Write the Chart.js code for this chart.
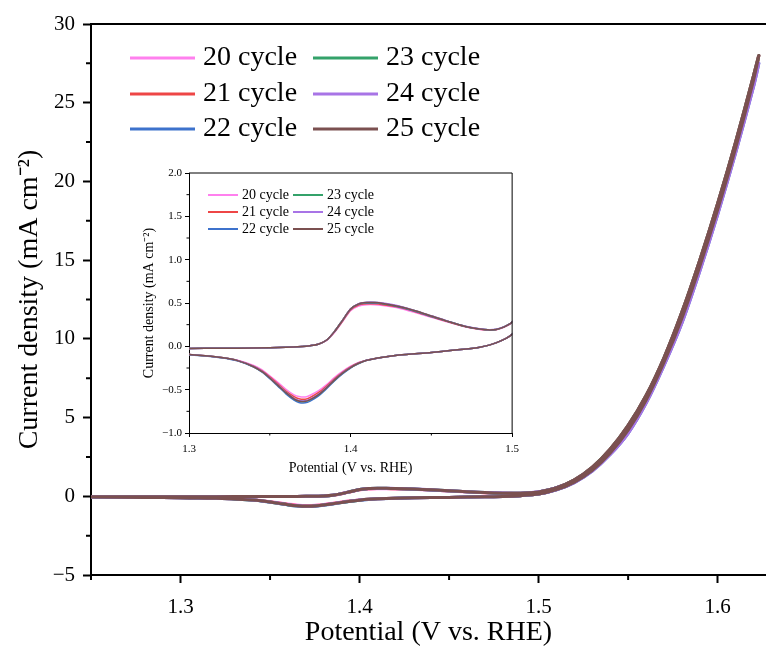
<!DOCTYPE html>
<html>
<head>
<meta charset="utf-8">
<script src="https://cdn.jsdelivr.net/npm/chart.js@4.4.1/dist/chart.umd.min.js"></script>
<style>
html, body { margin: 0; padding: 0; background: #fff; }
#wrap { position: relative; width: 766px; height: 663px; }
#mainChart { position: absolute; left: 0; top: 0; }
#insetChart { position: absolute; left: 130px; top: 160px; }
</style>
</head>
<body>
<div id="wrap">
  <canvas id="mainChart" width="766" height="663"></canvas>
  <canvas id="insetChart" width="395" height="320"></canvas>
</div>
<script>
// potential along one CV loop: forward scan up to 1.623 V, then back down
const potential = [
  1.25, 1.27, 1.29, 1.30, 1.32, 1.34, 1.36, 1.37, 1.375, 1.38,
  1.385, 1.39, 1.395, 1.40, 1.405, 1.41, 1.415, 1.42, 1.43, 1.44,
  1.45, 1.46, 1.47, 1.48, 1.485, 1.49, 1.495, 1.50, 1.51, 1.52,
  1.53, 1.54, 1.55, 1.56, 1.57, 1.58, 1.59, 1.60, 1.61, 1.62, 1.623,
  1.62, 1.61, 1.60, 1.59, 1.58, 1.57, 1.56, 1.55, 1.54, 1.53,
  1.52, 1.51, 1.50, 1.49, 1.48, 1.47, 1.45, 1.43, 1.42, 1.41,
  1.405, 1.40, 1.395, 1.39, 1.385, 1.38, 1.375, 1.372, 1.368, 1.365,
  1.36, 1.355, 1.35, 1.345, 1.34, 1.33, 1.32, 1.31, 1.30, 1.28, 1.25
];

// current density (mA cm-2) for each cycle, same order as potential
const cycle20 = [
  -0.03, -0.03, -0.028, -0.025, -0.022, -0.02, -0.012, -0.002, 0.008, 0.025,
  0.065, 0.16, 0.285, 0.41, 0.465, 0.48, 0.48, 0.47, 0.44, 0.39,
  0.335, 0.28, 0.23, 0.195, 0.185, 0.19, 0.22, 0.275, 0.55, 1.05,
  1.85, 3.0, 4.5, 6.4, 8.8, 11.7, 15.0, 18.6, 22.5, 26.7, 28.0,
  26.4, 22.1, 18.2, 14.6, 11.3, 8.5, 6.1, 4.2, 2.75, 1.65,
  0.9, 0.42, 0.14, 0.04, -0.01, -0.035, -0.07, -0.1, -0.125, -0.16,
  -0.185, -0.23, -0.29, -0.36, -0.445, -0.515, -0.565, -0.585, -0.58, -0.56,
  -0.495, -0.415, -0.34, -0.27, -0.22, -0.16, -0.128, -0.108, -0.093, -0.07, -0.05
];
const cycle21 = [
  -0.03, -0.03, -0.028, -0.025, -0.022, -0.02, -0.012, -0.002, 0.008, 0.025,
  0.068, 0.165, 0.29, 0.42, 0.477, 0.49, 0.49, 0.48, 0.45, 0.40,
  0.34, 0.285, 0.232, 0.197, 0.187, 0.192, 0.222, 0.277, 0.55, 1.05,
  1.85, 3.0, 4.5, 6.4, 8.8, 11.7, 15.0, 18.6, 22.5, 26.7, 28.0,
  26.4, 22.1, 18.2, 14.6, 11.3, 8.5, 6.1, 4.2, 2.75, 1.65,
  0.9, 0.42, 0.14, 0.04, -0.01, -0.035, -0.07, -0.1, -0.125, -0.16,
  -0.19, -0.238, -0.3, -0.375, -0.46, -0.535, -0.59, -0.61, -0.605, -0.58,
  -0.515, -0.432, -0.352, -0.28, -0.228, -0.163, -0.129, -0.109, -0.094, -0.07, -0.05
];
const cycle22 = [
  -0.03, -0.03, -0.028, -0.025, -0.022, -0.02, -0.012, -0.002, 0.008, 0.025,
  0.07, 0.17, 0.3, 0.43, 0.487, 0.5, 0.5, 0.49, 0.455, 0.405,
  0.345, 0.29, 0.235, 0.2, 0.19, 0.195, 0.225, 0.28, 0.54, 1.02,
  1.8, 2.9, 4.4, 6.2, 8.6, 11.4, 14.7, 18.3, 22.1, 26.2, 27.5,
  26.0, 21.8, 17.9, 14.3, 11.0, 8.3, 5.9, 4.0, 2.65, 1.6,
  0.87, 0.41, 0.14, 0.04, -0.01, -0.035, -0.07, -0.1, -0.125, -0.16,
  -0.2, -0.25, -0.318, -0.4, -0.492, -0.575, -0.632, -0.652, -0.647, -0.62,
  -0.548, -0.46, -0.373, -0.296, -0.24, -0.168, -0.132, -0.111, -0.096, -0.07, -0.05
];
const cycle23 = [
  -0.03, -0.03, -0.028, -0.025, -0.022, -0.02, -0.012, -0.002, 0.008, 0.025,
  0.07, 0.17, 0.3, 0.43, 0.49, 0.505, 0.505, 0.495, 0.46, 0.41,
  0.35, 0.29, 0.235, 0.2, 0.19, 0.195, 0.225, 0.28, 0.55, 1.05,
  1.85, 3.0, 4.5, 6.4, 8.8, 11.7, 15.0, 18.6, 22.5, 26.7, 28.0,
  26.4, 22.1, 18.2, 14.6, 11.3, 8.5, 6.1, 4.2, 2.75, 1.65,
  0.9, 0.42, 0.14, 0.04, -0.01, -0.035, -0.07, -0.1, -0.125, -0.16,
  -0.195, -0.245, -0.31, -0.39, -0.48, -0.56, -0.615, -0.635, -0.63, -0.605,
  -0.535, -0.45, -0.365, -0.29, -0.235, -0.165, -0.13, -0.11, -0.095, -0.07, -0.05
];
const cycle24 = [
  -0.03, -0.03, -0.028, -0.025, -0.022, -0.02, -0.012, -0.002, 0.008, 0.025,
  0.07, 0.17, 0.3, 0.432, 0.493, 0.51, 0.51, 0.5, 0.465, 0.412,
  0.352, 0.292, 0.237, 0.202, 0.192, 0.197, 0.227, 0.282, 0.54, 1.02,
  1.8, 2.9, 4.4, 6.2, 8.6, 11.4, 14.7, 18.3, 22.1, 26.2, 27.5,
  26.0, 21.8, 17.9, 14.3, 11.0, 8.3, 5.9, 4.0, 2.65, 1.6,
  0.87, 0.41, 0.14, 0.04, -0.01, -0.035, -0.07, -0.1, -0.125, -0.16,
  -0.193, -0.243, -0.307, -0.386, -0.475, -0.555, -0.61, -0.628, -0.624, -0.6,
  -0.53, -0.446, -0.362, -0.287, -0.233, -0.164, -0.13, -0.11, -0.095, -0.07, -0.05
];
const cycle25 = [
  -0.03, -0.03, -0.028, -0.025, -0.022, -0.02, -0.012, -0.002, 0.008, 0.025,
  0.07, 0.17, 0.3, 0.43, 0.49, 0.505, 0.505, 0.495, 0.46, 0.41,
  0.35, 0.29, 0.235, 0.2, 0.19, 0.195, 0.225, 0.28, 0.55, 1.05,
  1.85, 3.0, 4.5, 6.4, 8.8, 11.7, 15.0, 18.6, 22.5, 26.7, 28.0,
  26.4, 22.1, 18.2, 14.6, 11.3, 8.5, 6.1, 4.2, 2.75, 1.65,
  0.9, 0.42, 0.14, 0.04, -0.01, -0.035, -0.07, -0.1, -0.125, -0.16,
  -0.195, -0.245, -0.31, -0.39, -0.48, -0.56, -0.615, -0.635, -0.63, -0.605,
  -0.535, -0.45, -0.365, -0.29, -0.235, -0.165, -0.13, -0.11, -0.095, -0.07, -0.05
];

const cycleLabels = ['20 cycle', '21 cycle', '22 cycle', '23 cycle', '24 cycle', '25 cycle'];
const cycleData = [cycle20, cycle21, cycle22, cycle23, cycle24, cycle25];
const cycleColors = ['#FF80EE', '#EE4646', '#3D72CC', '#34A26A', '#A874E6', '#7B5050'];

// tick labels
const mainXTicks = [1.3, 1.4, 1.5, 1.6];
const mainXMinor = [1.25, 1.35, 1.45, 1.55];
const mainYTicks = [-5, 0, 5, 10, 15, 20, 25, 30];
const mainYMinor = [-2.5, 2.5, 7.5, 12.5, 17.5, 22.5, 27.5];
const insetXTicks = [1.3, 1.4, 1.5];
const insetXMinor = [1.35, 1.45];
const insetYTicks = [-1.0, -0.5, 0.0, 0.5, 1.0, 1.5, 2.0];
const insetYMinor = [-0.75, -0.25, 0.25, 0.75, 1.25, 1.75];

const serif = "'Liberation Serif', 'Times New Roman', serif";

function makeDatasets(width) {
  return cycleData.map((vals, i) => ({
    label: cycleLabels[i],
    data: vals.map((v, k) => ({ x: potential[k], y: v })),
    borderColor: cycleColors[i],
    backgroundColor: cycleColors[i],
    borderWidth: width,
    pointRadius: 0,
    showLine: true,
    tension: 0.25,
    fill: false,
    order: cycleData.length - i // later cycles drawn on top
  }));
}

// top/right frame lines and minor ticks
const frame = {
  id: 'frame',
  afterDraw(chart, args, o) {
    const { ctx, chartArea: a, scales } = chart;
    ctx.save();
    ctx.strokeStyle = '#000';
    ctx.lineWidth = o.lineWidth;
    ctx.beginPath();
    ctx.moveTo(a.left, a.top);
    ctx.lineTo(a.right, a.top);
    if (o.right) ctx.lineTo(a.right, a.bottom);
    ctx.stroke();
    ctx.beginPath();
    o.xMinor.forEach(v => {
      const px = scales.x.getPixelForValue(v);
      ctx.moveTo(px, a.bottom);
      ctx.lineTo(px, a.bottom + o.minorLen);
    });
    o.yMinor.forEach(v => {
      const py = scales.y.getPixelForValue(v);
      ctx.moveTo(a.left, py);
      ctx.lineTo(a.left - o.minorLen, py);
    });
    ctx.stroke();
    ctx.restore();
  }
};

// two column legend, drawn inside the plot
const cycleLegend = {
  id: 'cycleLegend',
  afterDatasetsDraw(chart, args, o) {
    const ctx = chart.ctx;
    ctx.save();
    ctx.font = o.font;
    ctx.textBaseline = 'middle';
    chart.data.datasets.forEach((ds, i) => {
      const x = o.x[Math.floor(i / 3)];
      const y = o.y[i % 3];
      ctx.strokeStyle = ds.borderColor;
      ctx.lineWidth = o.lineWidth;
      ctx.beginPath();
      ctx.moveTo(x, y);
      ctx.lineTo(x + o.len, y);
      ctx.stroke();
      ctx.fillStyle = '#000';
      ctx.fillText(ds.label, x + o.len + o.gap, y);
    });
    ctx.restore();
  }
};

function axis(min, max, ticks, opts) {
  return {
    type: 'linear',
    min: min,
    max: max,
    afterBuildTicks: s => { s.ticks = ticks.map(v => ({ value: v })); },
    afterFit: opts.fit,
    grid: { display: true, drawOnChartArea: false, drawTicks: true, tickLength: opts.tickLen, tickWidth: opts.lw, tickColor: '#000' },
    border: { display: true, color: '#000', width: opts.lw },
    ticks: {
      color: '#000',
      autoSkip: false,
      maxRotation: 0,
      padding: opts.pad,
      font: { family: serif, size: opts.tickSize },
      callback: opts.fmt
    },
    title: {
      display: true,
      text: opts.title,
      color: '#000',
      font: { family: serif, size: opts.titleSize },
      padding: opts.titlePad
    }
  };
}

new Chart(document.getElementById('mainChart'), {
  type: 'scatter',
  data: { datasets: makeDatasets(3) },
  plugins: [frame, cycleLegend],
  options: {
    responsive: false,
    animation: false,
    layout: { padding: { top: 24, right: 0, left: 0, bottom: 0 } },
    scales: {
      x: axis(1.25, 1.627, mainXTicks, {
        fit: s => { s.height = 88; }, tickLen: 8, lw: 2, pad: 12, tickSize: 21,
        fmt: v => v.toFixed(1), title: 'Potential (V vs. RHE)', titleSize: 28,
        titlePad: { top: 0, bottom: 14 }
      }),
      y: axis(-5, 30, mainYTicks, {
        fit: s => { s.width = 91; }, tickLen: 8, lw: 2, pad: 8, tickSize: 21,
        fmt: v => String(v).replace('-', '\u2212'), title: 'Current density (mA cm\u207B\u00B2)', titleSize: 28,
        titlePad: { top: 13, bottom: 0 }
      })
    },
    plugins: {
      legend: { display: false },
      tooltip: { enabled: false },
      frame: { lineWidth: 2, right: false, minorLen: 5, xMinor: mainXMinor, yMinor: mainYMinor },
      cycleLegend: { x: [130, 313], y: [58, 94, 129], len: 65, gap: 8, lineWidth: 3, font: '28px ' + serif }
    }
  }
});

new Chart(document.getElementById('insetChart'), {
  type: 'scatter',
  data: { datasets: makeDatasets(1.5) },
  plugins: [frame, cycleLegend],
  options: {
    responsive: false,
    animation: false,
    layout: { padding: { top: 13, right: 12, left: 0, bottom: 0 } },
    scales: {
      x: axis(1.3, 1.5, insetXTicks, {
        fit: s => { s.height = 47; }, tickLen: 4, lw: 1, pad: 6, tickSize: 11,
        fmt: v => v.toFixed(1), title: 'Potential (V vs. RHE)', titleSize: 14,
        titlePad: { top: 0, bottom: 3 }
      }),
      y: axis(-1.0, 2.0, insetYTicks, {
        fit: s => { s.width = 59; }, tickLen: 4, lw: 1, pad: 3, tickSize: 11,
        fmt: v => v.toFixed(1).replace('-', '\u2212'), title: 'Current density (mA cm\u207B\u00B2)', titleSize: 14,
        titlePad: { top: 11, bottom: 0 }
      })
    },
    plugins: {
      legend: { display: false },
      tooltip: { enabled: false },
      frame: { lineWidth: 1, right: true, minorLen: 2.5, xMinor: insetXMinor, yMinor: insetYMinor },
      cycleLegend: { x: [78, 163], y: [35, 52, 69], len: 30, gap: 4, lineWidth: 2, font: '14px ' + serif }
    }
  }
});
</script>
</body>
</html>
